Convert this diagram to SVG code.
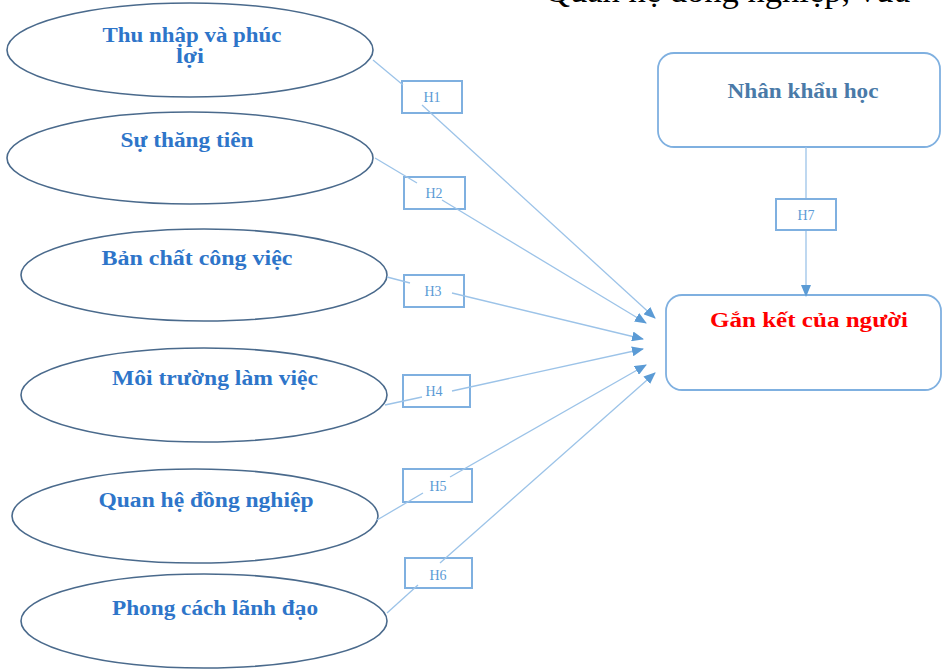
<svg xmlns="http://www.w3.org/2000/svg" width="942" height="671" viewBox="0 0 942 671">
<style>
.ell{fill:#ffffff;stroke:#4a6a8c;stroke-width:1.6}
.et{font-family:"Liberation Serif",serif;font-weight:bold;font-size:20px;fill:#2e75c9;text-anchor:middle}
.hb{fill:#ffffff;stroke:#7fb0e0;stroke-width:2}
.ht{font-family:"Liberation Serif",serif;font-size:14px;fill:#5b9bd5;text-anchor:middle}
.rb{fill:#ffffff;stroke:#7fb0e0;stroke-width:1.8}
.ln{stroke:#9cc3e8;stroke-width:1.3;fill:none}
.top{font-family:"Liberation Serif",serif;font-size:33px;fill:#000000}
</style>
<defs>
<marker id="arr" viewBox="0 0 12 10" refX="11" refY="5" markerWidth="12" markerHeight="10" markerUnits="userSpaceOnUse" orient="auto">
<path d="M0,0 L12,5 L0,10 z" fill="#5b9bd5"/>
</marker>
</defs>
<rect width="942" height="671" fill="#ffffff"/>
<text class="top" x="545" y="2" textLength="365" lengthAdjust="spacingAndGlyphs">Quan hệ đồng nghiệp, vừa</text>

<g id="n1"><ellipse class="ell" cx="190" cy="50" rx="183" ry="47"/>
<text class="et" x="192" y="42" textLength="179" lengthAdjust="spacingAndGlyphs">Thu nhập và phúc</text>
<text class="et" x="190" y="63" textLength="28" lengthAdjust="spacingAndGlyphs">lợi</text></g>
<g id="n2"><ellipse class="ell" cx="190" cy="158" rx="183" ry="46"/>
<text class="et" x="187" y="147" textLength="133" lengthAdjust="spacingAndGlyphs">Sự thăng tiên</text></g>
<g id="n3"><ellipse class="ell" cx="204" cy="275" rx="183" ry="46"/>
<text class="et" x="197" y="265" textLength="191" lengthAdjust="spacingAndGlyphs">Bản chất công việc</text></g>
<g id="n4"><ellipse class="ell" cx="204" cy="395" rx="183" ry="47"/>
<text class="et" x="215" y="385" textLength="206" lengthAdjust="spacingAndGlyphs">Môi trường làm việc</text></g>
<g id="n5"><ellipse class="ell" cx="195" cy="516" rx="183" ry="47"/>
<text class="et" x="206" y="507" textLength="215" lengthAdjust="spacingAndGlyphs">Quan hệ đồng nghiệp</text></g>
<g id="n6"><ellipse class="ell" cx="204" cy="621" rx="183" ry="47"/>
<text class="et" x="215" y="615" textLength="206" lengthAdjust="spacingAndGlyphs">Phong cách lãnh đạo</text></g>

<g id="demo"><rect class="rb" x="658" y="53" width="282" height="94" rx="16"/>
<text x="803" y="98" font-family="Liberation Serif,serif" font-weight="bold" font-size="20" fill="#4a7aa8" text-anchor="middle" textLength="151" lengthAdjust="spacingAndGlyphs">Nhân khẩu học</text></g>
<g id="target"><rect class="rb" x="666" y="295" width="275" height="95" rx="16"/>
<text x="809" y="327" font-family="Liberation Serif,serif" font-weight="bold" font-size="20" fill="#ff0000" text-anchor="middle" textLength="198" lengthAdjust="spacingAndGlyphs">Gắn kết của người</text></g>

<g id="hboxes">
<g id="h1"><rect class="hb" x="402" y="81" width="60" height="32"/><text class="ht" x="432" y="102">H1</text></g>
<g id="h2"><rect class="hb" x="404" y="177" width="61" height="32"/><text class="ht" x="434" y="198">H2</text></g>
<g id="h3"><rect class="hb" x="404" y="275" width="60" height="32"/><text class="ht" x="433" y="296">H3</text></g>
<g id="h4"><rect class="hb" x="403" y="375" width="67" height="32"/><text class="ht" x="434" y="396">H4</text></g>
<g id="h5"><rect class="hb" x="403" y="469" width="69" height="33"/><text class="ht" x="438" y="491">H5</text></g>
<g id="h6"><rect class="hb" x="405" y="558" width="67" height="30"/><text class="ht" x="438" y="580">H6</text></g>
</g>

<g id="connectors">
<line class="ln" x1="373" y1="60" x2="403" y2="85"/>
<line class="ln" x1="422" y1="105" x2="655" y2="318" marker-end="url(#arr)"/>
<line class="ln" x1="375" y1="158" x2="417" y2="183"/>
<line class="ln" x1="442" y1="200" x2="646" y2="323" marker-end="url(#arr)"/>
<line class="ln" x1="387" y1="277" x2="410" y2="283"/>
<line class="ln" x1="452" y1="293" x2="643" y2="339" marker-end="url(#arr)"/>
<line class="ln" x1="385" y1="405" x2="422" y2="397"/>
<line class="ln" x1="452" y1="391" x2="643" y2="349" marker-end="url(#arr)"/>
<line class="ln" x1="377" y1="520" x2="423" y2="493"/>
<line class="ln" x1="450" y1="477" x2="646" y2="365" marker-end="url(#arr)"/>
<line class="ln" x1="387" y1="613" x2="418" y2="585"/>
<line class="ln" x1="440" y1="563" x2="655" y2="373" marker-end="url(#arr)"/>
<line class="ln" x1="806" y1="147" x2="806" y2="199"/>
<line class="ln" x1="806" y1="230" x2="806" y2="296" marker-end="url(#arr)"/>
</g>
<g id="h7"><rect class="hb" x="776" y="199" width="60" height="31"/><text class="ht" x="806" y="220">H7</text></g>
</svg>
